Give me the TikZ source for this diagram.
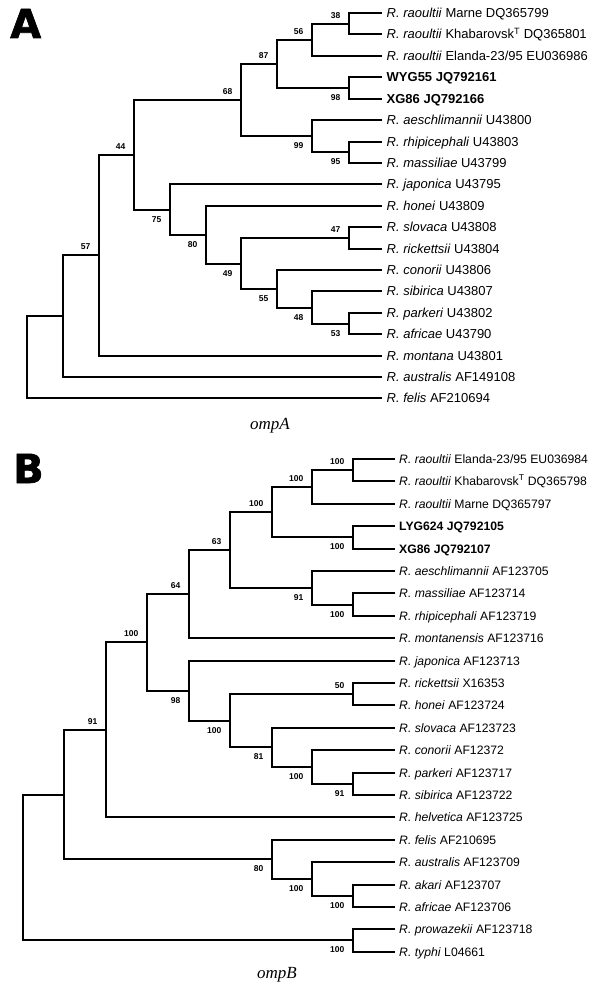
\documentclass[tikz,border=0pt]{standalone}
\usepackage{fontspec}
\setmainfont{Liberation Sans}
\newfontfamily\genefont{Liberation Serif}
\newfontfamily\panelfont{DejaVu Sans Bold}[FakeBold=1.6]
\tikzstyle{branch}=[line width=2pt]
\tikzstyle{leafA}=[anchor=west,inner xsep=4.5pt,inner ysep=0pt,text height=9.3pt,text depth=0pt,font=\fontsize{13}{15}\selectfont]
\tikzstyle{leafB}=[leafA,inner xsep=4pt,text height=8.7pt,font=\fontsize{12.2}{14}\selectfont]
\tikzstyle{boot}=[inner sep=0pt,font=\bfseries\fontsize{8.5}{10}\selectfont]
\tikzstyle{bootup}=[boot,anchor=south east,xshift=-8.5pt,yshift=5pt]
\tikzstyle{bootdown}=[boot,anchor=north east,xshift=-8.5pt,yshift=-6.5pt]
\tikzstyle{panel}=[anchor=base west,inner sep=0pt,font=\panelfont\fontsize{40}{40}\selectfont]
\tikzstyle{gene}=[anchor=base,inner sep=0pt,font=\genefont\itshape\fontsize{17}{17}\selectfont]

\begin{document}
\begin{tikzpicture}[x=1pt,y=-1pt]
  \useasboundingbox (0,0) rectangle (600,992);

  % ---- ompA ----
  \node[panel] (panA) at (10,38) {A};
  \node[leafA] (a1) at (382,13) {\textit{R. raoultii} Marne DQ365799};
  \node[leafA] (a2) at (382,34) {\textit{R. raoultii} Khabarovsk\textsuperscript{T} DQ365801};
  \node[leafA] (a3) at (382,56) {\textit{R. raoultii} Elanda-23/95 EU036986};
  \node[leafA] (a4) at (382,77) {\textbf{WYG55 JQ792161}};
  \node[leafA] (a5) at (382,99) {\textbf{XG86 JQ792166}};
  \node[leafA] (a6) at (382,120) {\textit{R. aeschlimannii} U43800};
  \node[leafA] (a7) at (382,142) {\textit{R. rhipicephali} U43803};
  \node[leafA] (a8) at (382,163) {\textit{R. massiliae} U43799};
  \node[leafA] (a9) at (382,184) {\textit{R. japonica} U43795};
  \node[leafA] (a10) at (382,206) {\textit{R. honei} U43809};
  \node[leafA] (a11) at (382,227) {\textit{R. slovaca} U43808};
  \node[leafA] (a12) at (382,249) {\textit{R. rickettsii} U43804};
  \node[leafA] (a13) at (382,270) {\textit{R. conorii} U43806};
  \node[leafA] (a14) at (382,291) {\textit{R. sibirica} U43807};
  \node[leafA] (a15) at (382,313) {\textit{R. parkeri} U43802};
  \node[leafA] (a16) at (382,334) {\textit{R. africae} U43790};
  \node[leafA] (a17) at (382,356) {\textit{R. montana} U43801};
  \node[leafA] (a18) at (382,377) {\textit{R. australis} AF149108};
  \node[leafA] (a19) at (382,398) {\textit{R. felis} AF210694};

  % inner nodes
  \coordinate (nA38) at (349,24);
  \coordinate (nA56) at (312,40);
  \coordinate (nA98) at (349,88);
  \coordinate (nA87) at (277,64);
  \coordinate (nA95) at (349,152);
  \coordinate (nA99) at (312,136);
  \coordinate (nA68) at (241,100);
  \coordinate (nA47) at (349,238);
  \coordinate (nA53) at (349,324);
  \coordinate (nA48) at (312,308);
  \coordinate (nA55) at (277,289);
  \coordinate (nA49) at (241,264);
  \coordinate (nA80) at (206,235);
  \coordinate (nA75) at (170,210);
  \coordinate (nA44) at (134,155);
  \coordinate (nA57) at (99,255);
  \coordinate (nAaus) at (63,316);
  \coordinate (nAroot) at (27,357);

  \draw[branch] (a1.west) -| (nA38) |- (a2.west);
  \draw[branch] (nA38) -| (nA56) |- (a3.west);
  \draw[branch] (a4.west) -| (nA98) |- (a5.west);
  \draw[branch] (nA56) -| (nA87) |- (nA98);
  \draw[branch] (a7.west) -| (nA95) |- (a8.west);
  \draw[branch] (a6.west) -| (nA99) |- (nA95);
  \draw[branch] (nA87) -| (nA68) |- (nA99);
  \draw[branch] (a11.west) -| (nA47) |- (a12.west);
  \draw[branch] (a15.west) -| (nA53) |- (a16.west);
  \draw[branch] (a14.west) -| (nA48) |- (nA53);
  \draw[branch] (a13.west) -| (nA55) |- (nA48);
  \draw[branch] (nA47) -| (nA49) |- (nA55);
  \draw[branch] (a10.west) -| (nA80) |- (nA49);
  \draw[branch] (a9.west) -| (nA75) |- (nA80);
  \draw[branch] (nA68) -| (nA44) |- (nA75);
  \draw[branch] (nA44) -| (nA57) |- (a17.west);
  \draw[branch] (nA57) -| (nAaus) |- (a18.west);
  \draw[branch] (nAaus) -| (nAroot) |- (a19.west);

  % bootstrap values
  \node[bootup] (lA38) at (nA38) {38};
  \node[bootup] (lA56) at (nA56) {56};
  \node[bootdown] (lA98) at (nA98) {98};
  \node[bootup] (lA87) at (nA87) {87};
  \node[bootdown] (lA95) at (nA95) {95};
  \node[bootdown] (lA99) at (nA99) {99};
  \node[bootup] (lA68) at (nA68) {68};
  \node[bootup] (lA47) at (nA47) {47};
  \node[bootdown] (lA53) at (nA53) {53};
  \node[bootdown] (lA48) at (nA48) {48};
  \node[bootdown] (lA55) at (nA55) {55};
  \node[bootdown] (lA49) at (nA49) {49};
  \node[bootdown] (lA80) at (nA80) {80};
  \node[bootdown] (lA75) at (nA75) {75};
  \node[bootup] (lA44) at (nA44) {44};
  \node[bootup] (lA57) at (nA57) {57};

  \node[gene] (geneA) at (270,429) {ompA};

  % ---- ompB ----
  \node[panel] (panB) at (13,483) {B};
  \node[leafB] (b1) at (395,459) {\textit{R. raoultii} Elanda-23/95 EU036984};
  \node[leafB] (b2) at (395,481) {\textit{R. raoultii} Khabarovsk\textsuperscript{T} DQ365798};
  \node[leafB] (b3) at (395,504) {\textit{R. raoultii} Marne DQ365797};
  \node[leafB] (b4) at (395,526) {\textbf{LYG624 JQ792105}};
  \node[leafB] (b5) at (395,549) {\textbf{XG86 JQ792107}};
  \node[leafB] (b6) at (395,571) {\textit{R. aeschlimannii} AF123705};
  \node[leafB] (b7) at (395,593) {\textit{R. massiliae} AF123714};
  \node[leafB] (b8) at (395,616) {\textit{R. rhipicephali} AF123719};
  \node[leafB] (b9) at (395,638) {\textit{R. montanensis} AF123716};
  \node[leafB] (b10) at (395,661) {\textit{R. japonica} AF123713};
  \node[leafB] (b11) at (395,683) {\textit{R. rickettsii} X16353};
  \node[leafB] (b12) at (395,705) {\textit{R. honei} AF123724};
  \node[leafB] (b13) at (395,728) {\textit{R. slovaca} AF123723};
  \node[leafB] (b14) at (395,750) {\textit{R. conorii} AF12372};
  \node[leafB] (b15) at (395,773) {\textit{R. parkeri} AF123717};
  \node[leafB] (b16) at (395,795) {\textit{R. sibirica} AF123722};
  \node[leafB] (b17) at (395,817) {\textit{R. helvetica} AF123725};
  \node[leafB] (b18) at (395,840) {\textit{R. felis} AF210695};
  \node[leafB] (b19) at (395,862) {\textit{R. australis} AF123709};
  \node[leafB] (b20) at (395,885) {\textit{R. akari} AF123707};
  \node[leafB] (b21) at (395,907) {\textit{R. africae} AF123706};
  \node[leafB] (b22) at (395,929) {\textit{R. prowazekii} AF123718};
  \node[leafB] (b23) at (395,952) {\textit{R. typhi} L04661};

  % inner nodes
  \coordinate (nBek) at (353,470);
  \coordinate (nBrao) at (312,487);
  \coordinate (nBxg) at (353,537);
  \coordinate (nBnew) at (272,512);
  \coordinate (nBmr) at (353,605);
  \coordinate (nBaes) at (312,588);
  \coordinate (nB63) at (230,550);
  \coordinate (nB64) at (189,594);
  \coordinate (nBrh) at (353,694);
  \coordinate (nBps) at (353,784);
  \coordinate (nBcon) at (312,767);
  \coordinate (nBslo) at (272,747);
  \coordinate (nBhon) at (230,721);
  \coordinate (nBjap) at (189,691);
  \coordinate (nBsfg) at (147,642);
  \coordinate (nBhel) at (106,730);
  \coordinate (nBaa) at (353,896);
  \coordinate (nBaus) at (312,879);
  \coordinate (nBfel) at (272,859);
  \coordinate (nBsfg2) at (64,795);
  \coordinate (nBtg) at (353,940);
  \coordinate (nBroot) at (23,867);

  \draw[branch] (b1.west) -| (nBek) |- (b2.west);
  \draw[branch] (nBek) -| (nBrao) |- (b3.west);
  \draw[branch] (b4.west) -| (nBxg) |- (b5.west);
  \draw[branch] (nBrao) -| (nBnew) |- (nBxg);
  \draw[branch] (b7.west) -| (nBmr) |- (b8.west);
  \draw[branch] (b6.west) -| (nBaes) |- (nBmr);
  \draw[branch] (nBnew) -| (nB63) |- (nBaes);
  \draw[branch] (nB63) -| (nB64) |- (b9.west);
  \draw[branch] (b11.west) -| (nBrh) |- (b12.west);
  \draw[branch] (b15.west) -| (nBps) |- (b16.west);
  \draw[branch] (b14.west) -| (nBcon) |- (nBps);
  \draw[branch] (b13.west) -| (nBslo) |- (nBcon);
  \draw[branch] (nBrh) -| (nBhon) |- (nBslo);
  \draw[branch] (b10.west) -| (nBjap) |- (nBhon);
  \draw[branch] (nB64) -| (nBsfg) |- (nBjap);
  \draw[branch] (nBsfg) -| (nBhel) |- (b17.west);
  \draw[branch] (b20.west) -| (nBaa) |- (b21.west);
  \draw[branch] (b19.west) -| (nBaus) |- (nBaa);
  \draw[branch] (b18.west) -| (nBfel) |- (nBaus);
  \draw[branch] (nBhel) -| (nBsfg2) |- (nBfel);
  \draw[branch] (b22.west) -| (nBtg) |- (b23.west);
  \draw[branch] (nBsfg2) -| (nBroot) |- (nBtg);

  % bootstrap values
  \node[bootup] (lBek) at (nBek) {100};
  \node[bootup] (lBrao) at (nBrao) {100};
  \node[bootdown] (lBxg) at (nBxg) {100};
  \node[bootup] (lBnew) at (nBnew) {100};
  \node[bootdown] (lBmr) at (nBmr) {100};
  \node[bootdown] (lBaes) at (nBaes) {91};
  \node[bootup] (lB63) at (nB63) {63};
  \node[bootup] (lB64) at (nB64) {64};
  \node[bootup] (lBrh) at (nBrh) {50};
  \node[bootdown] (lBps) at (nBps) {91};
  \node[bootdown] (lBcon) at (nBcon) {100};
  \node[bootdown] (lBslo) at (nBslo) {81};
  \node[bootdown] (lBhon) at (nBhon) {100};
  \node[bootdown] (lBjap) at (nBjap) {98};
  \node[bootup] (lBsfg) at (nBsfg) {100};
  \node[bootup] (lBhel) at (nBhel) {91};
  \node[bootdown] (lBaa) at (nBaa) {100};
  \node[bootdown] (lBaus) at (nBaus) {100};
  \node[bootdown] (lBfel) at (nBfel) {80};
  \node[bootdown] (lBtg) at (nBtg) {100};

  \node[gene] (geneB) at (277,978) {ompB};
\end{tikzpicture}
\end{document}
